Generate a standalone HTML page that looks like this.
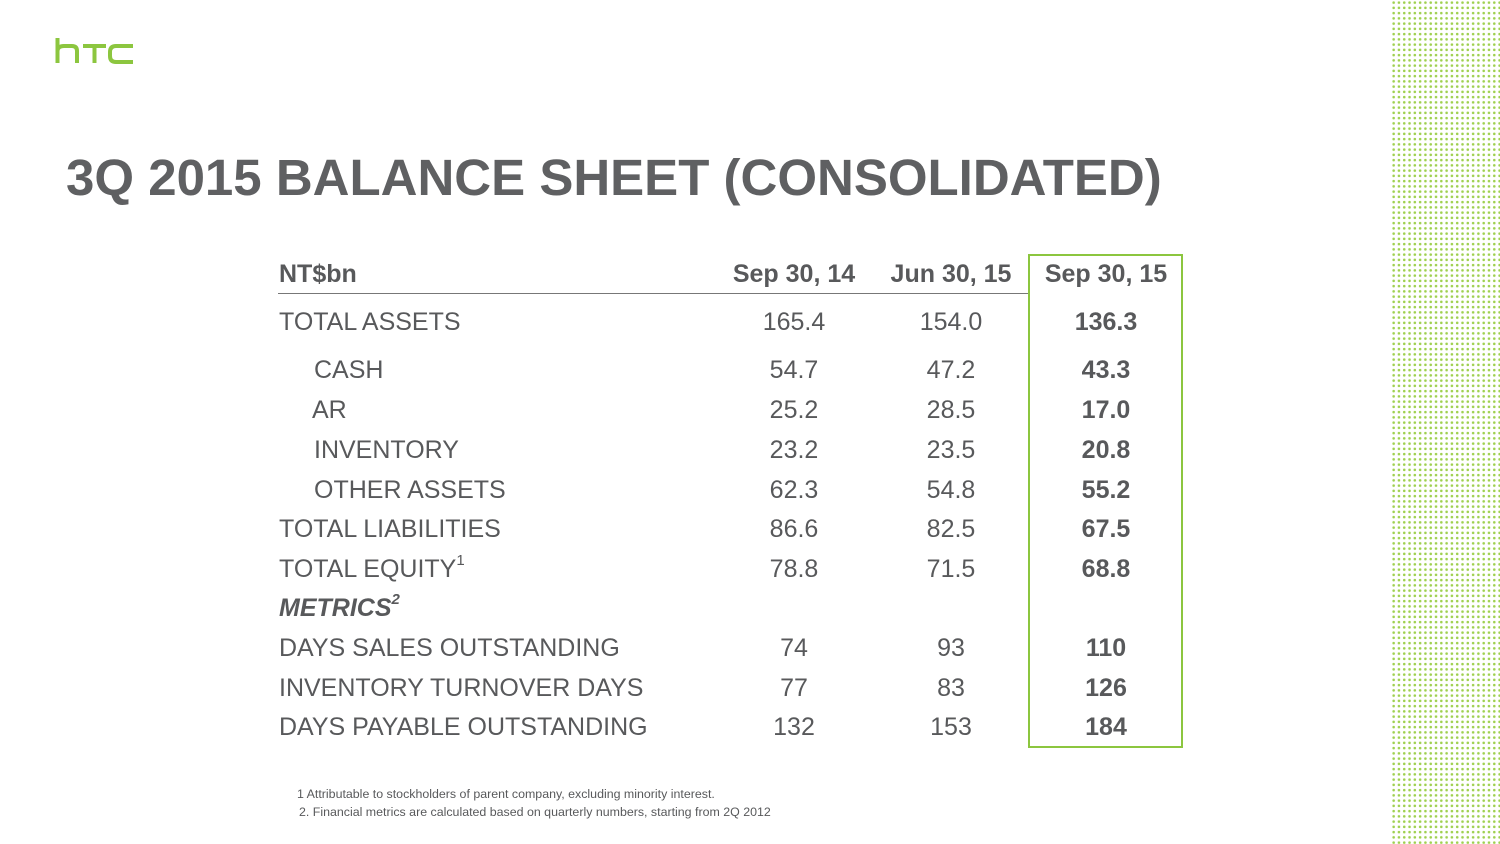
<!DOCTYPE html>
<html><head><meta charset="utf-8"><style>
body{margin:0;width:1500px;height:844px;background:#fff;position:relative;overflow:hidden;font-family:"Liberation Sans",Arial,sans-serif;color:#58595b}
.dots{position:absolute;left:1391px;top:0;width:109px;height:844px;background-image:radial-gradient(circle,#9fd04f 1.2px,transparent 1.5px);background-size:5.3px 5.25px;background-position:0 0}
.t{position:absolute;font-size:25px;line-height:24px;white-space:nowrap}
.c{transform:translateX(-50%)}
.b{font-weight:bold}
sup{font-size:15px;line-height:0;position:relative;top:-3px;vertical-align:super}
</style></head><body>
<div class="dots"></div>
<svg style="position:absolute;left:55px;top:38px" width="80" height="26" viewBox="0 0 80 26">
<g fill="none" stroke="#8cc63f" stroke-width="4">
<path d="M2.5 0V25M2.5 13Q2.5 8 9 8H17Q22 8 22 13V25"/>
<path d="M28 8H51M39.5 8V25"/>
<path d="M78 8H61Q55 8 55 14V18Q55 24 61 24H78"/>
</g></svg>
<div class="t b" style="left:66px;top:151px;font-size:51px;line-height:54px;color:#5f6062">3Q 2015 BALANCE SHEET (CONSOLIDATED)</div>
<div style="position:absolute;left:1028px;top:254px;width:151px;height:490px;border:2px solid #8cc63f"></div>
<div style="position:absolute;left:278px;top:293px;width:750px;height:1px;background:#777"></div>
<div id="tbl"></div>
<div class="t" style="left:297px;top:787px;font-size:12.4px;line-height:14px">1 Attributable to stockholders of parent company, excluding minority interest.</div>
<div class="t" style="left:299px;top:805px;font-size:12.4px;line-height:14px">2. Financial metrics are calculated based on quarterly numbers, starting from 2Q 2012</div>
<script>
const labels=["TOTAL ASSETS","CASH","AR","INVENTORY","OTHER ASSETS","TOTAL LIABILITIES","TOTAL EQUITY","METRICS","DAYS SALES OUTSTANDING","INVENTORY TURNOVER DAYS","DAYS PAYABLE OUTSTANDING"];
const sep14=["165.4","54.7","25.2","23.2","62.3","86.6","78.8","","74","77","132"];
const jun15=["154.0","47.2","28.5","23.5","54.8","82.5","71.5","","93","83","153"];
const sep15=["136.3","43.3","17.0","20.8","55.2","67.5","68.8","","110","126","184"];
const tops=[310,358,398,438,478,517,557,596,636,676,715];
const lx=[279,314,312,314,314,279,279,279,279,279,279];
const tbl=document.getElementById('tbl');
function add(html,x,y,cls,name){const d=document.createElement('div');d.className='t '+cls;d.style.left=x+'px';d.style.top=y+'px';d.innerHTML=html;


tbl.appendChild(d);}
add('NT$bn',279,262,'b','header-unit');
add('Sep 30, 14',794,262,'b c','header-sep-30-14');
add('Jun 30, 15',951,262,'b c','header-jun-30-15');
add('Sep 30, 15',1106,262,'b c','header-sep-30-15');
labels.forEach((l,i)=>{
 let h=l;if(l==="TOTAL EQUITY")h+='<sup>1</sup>';
 if(l==="METRICS")h='<i>METRICS</i><sup><i>2</i></sup>';
 add(h,lx[i],tops[i],l==="METRICS"?'b':'','row-label-'+i);
 add(sep14[i],794,tops[i],'c','sep14-value-'+i);
 add(jun15[i],951,tops[i],'c','jun15-value-'+i);
 add(sep15[i],1106,tops[i],'b c','sep15-value-'+i);
});
</script>
</body></html>
